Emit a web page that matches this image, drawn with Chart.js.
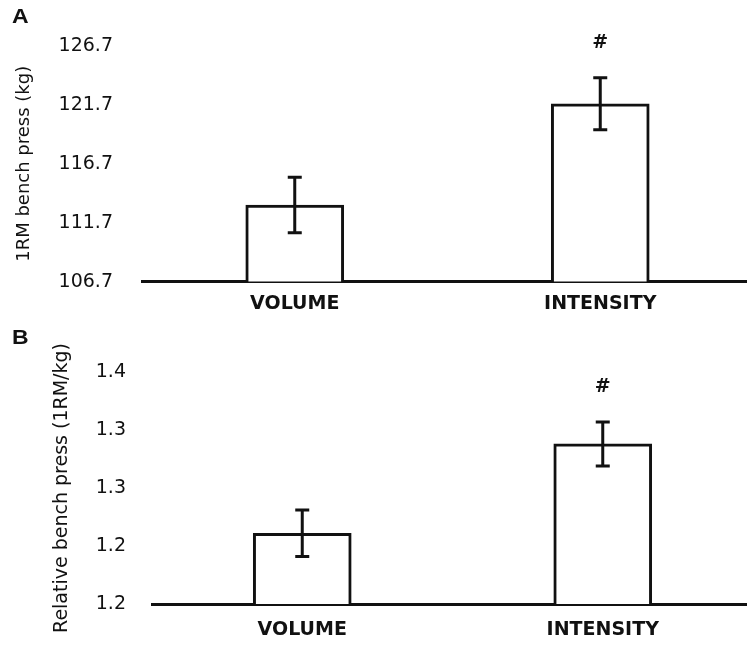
<!DOCTYPE html>
<html><head><meta charset="utf-8">
<script src="https://cdn.jsdelivr.net/npm/chart.js@4/dist/chart.umd.min.js"></script>
<style>
html,body{margin:0;padding:0;background:#fff;overflow:hidden;width:747px;height:645px;}
.panel{position:absolute;left:0;width:753px;}
#pa{top:0;height:322px;}
#pb{top:322px;height:323px;}
.lbl{position:absolute;left:12px;font:bold 20px "Liberation Sans",Arial,sans-serif;line-height:1;color:#111;transform:scaleX(1.15);transform-origin:left top;}
</style></head><body>
<div class="panel" id="pa"><canvas id="ca"></canvas></div>
<div class="panel" id="pb"><canvas id="cb"></canvas></div>
<div class="lbl" style="top:6px">A</div>
<div class="lbl" style="top:327px">B</div>
<script>
// ---- data ----
const categories = ['VOLUME', 'INTENSITY'];
const oneRmMeans = [113.2, 121.8];
const oneRmErrors = [2.35, 2.2];
const oneRmTickValues = [106.7, 111.7, 116.7, 121.7, 126.7];
const oneRmTickLabels = ['106.7', '111.7', '116.7', '121.7', '126.7'];
const relMeans = [1.211, 1.288];
const relErrors = [0.020, 0.019];
const relTickValues = [1.15, 1.20, 1.25, 1.30, 1.35];
const relTickLabels = ['1.2', '1.2', '1.3', '1.3', '1.4'];
const significanceMarks = ['', '#'];

const INK = '#111';
const FONT = '"DejaVu Sans", sans-serif';

const errorBarPlugin = {
  id: 'errbars',
  afterDatasetsDraw(chart, args, opts) {
    const ctx = chart.ctx;
    const meta = chart.getDatasetMeta(0);
    const ys = chart.scales.y;
    const data = chart.data.datasets[0].data;
    ctx.save();
    ctx.strokeStyle = INK;
    ctx.lineWidth = 3;
    meta.data.forEach((bar, i) => {
      const v = data[i], e = opts.errors[i];
      const x = bar.x;
      const yt = ys.getPixelForValue(v + e), yb = ys.getPixelForValue(v - e);
      ctx.beginPath();
      ctx.moveTo(x, yt); ctx.lineTo(x, yb);
      ctx.moveTo(x - 7, yt); ctx.lineTo(x + 7, yt);
      ctx.moveTo(x - 7, yb); ctx.lineTo(x + 7, yb);
      ctx.stroke();
      if (opts.marks[i]) {
        ctx.fillStyle = INK;
        ctx.font = 'bold 19px ' + FONT;
        ctx.textAlign = 'center';
        ctx.textBaseline = 'middle';
        ctx.fillText(opts.marks[i], x, yt - 35);
      }
    });
    ctx.restore();
  }
};

function makeChart(id, means, errors, tickValues, tickLabels, title, cfg) {
  return new Chart(document.getElementById(id), {
    type: 'bar',
    data: {
      labels: categories,
      datasets: [{
        data: means,
        backgroundColor: '#fff',
        borderColor: INK,
        borderWidth: 3,
        borderSkipped: 'start',
        barThickness: 98
      }]
    },
    plugins: [errorBarPlugin],
    options: {
      responsive: true,
      maintainAspectRatio: false,
      animation: false,
      layout: { padding: { top: cfg.top, left: 0, right: 0, bottom: 0 } },
      plugins: {
        legend: { display: false },
        tooltip: { enabled: false },
        errbars: { errors: errors, marks: significanceMarks }
      },
      scales: {
        x: {
          grid: { display: false, drawTicks: false },
          border: { display: true, color: INK, width: 3 },
          ticks: { color: INK, padding: cfg.xPad, maxRotation: 0, autoSkip: false,
                   font: { family: FONT, size: 19, weight: 'bold' } },
          afterFit: s => { s.height = cfg.xH; }
        },
        y: {
          min: tickValues[0],
          max: tickValues[tickValues.length - 1],
          grid: { display: false, drawTicks: false },
          border: { display: false },
          afterBuildTicks: s => { s.ticks = tickValues.map(v => ({ value: v })); },
          ticks: { color: INK, padding: cfg.tickPad,
                   font: { family: FONT, size: 19 },
                   callback: (val, idx) => tickLabels[idx] },
          title: { display: true, text: title, color: INK,
                   font: { family: FONT, size: cfg.titleSize },
                   padding: { top: cfg.titlePad, bottom: 0 } },
          afterFit: s => { s.width = cfg.axisW; }
        }
      }
    }
  });
}

makeChart('ca', oneRmMeans, oneRmErrors, oneRmTickValues, oneRmTickLabels, '1RM bench press (kg)',
  { top: 46, xH: 39, xPad: 11, tickPad: 29, axisW: 142, titleSize: 18, titlePad: 14 });
makeChart('cb', relMeans, relErrors, relTickValues, relTickLabels, 'Relative bench press (1RM/kg)',
  { top: 50, xH: 41, xPad: 15, tickPad: 26, axisW: 152, titleSize: 19, titlePad: 51 });
</script>
</body></html>
